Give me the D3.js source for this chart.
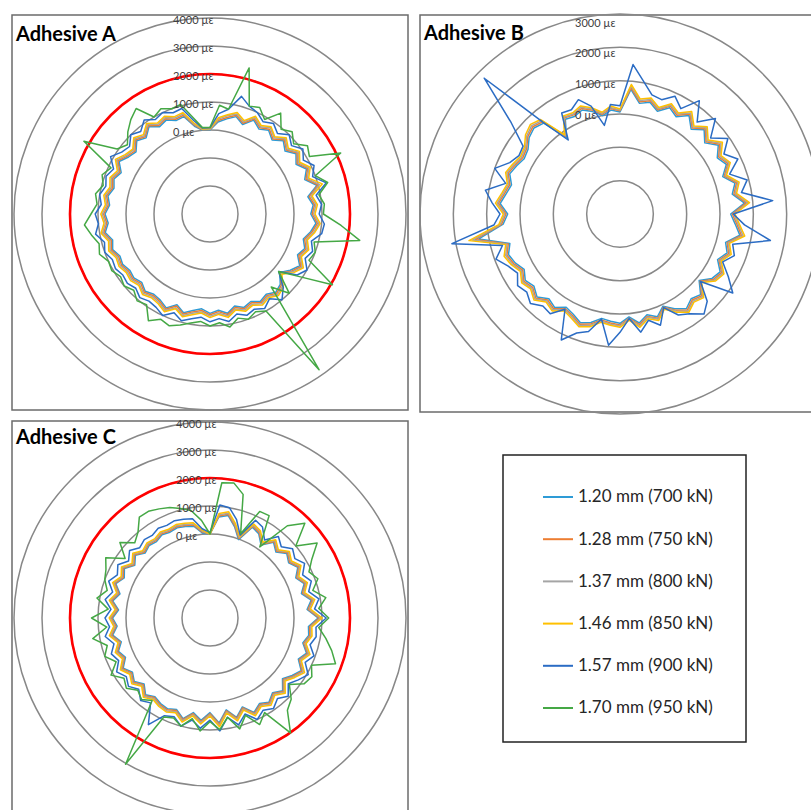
<!DOCTYPE html>
<html>
<head>
<meta charset="utf-8">
<script src="https://cdn.jsdelivr.net/npm/d3@7"></script>
<style>
  html, body { margin: 0; padding: 0; background: #fff; }
  svg { display: block; }
</style>
</head>
<body>
<svg id="chart" width="811" height="810"></svg>
<script>
// ---------- DATA (µε, 72 gauge positions every 5°, clockwise from top) ----------
const seriesNames = ["1.20 mm (700 kN)", "1.28 mm (750 kN)", "1.37 mm (800 kN)", "1.46 mm (850 kN)", "1.57 mm (900 kN)", "1.70 mm (950 kN)"];
const seriesColors = ["#2E9BD6", "#ED7D31", "#A5A5A5", "#FFC000", "#2B6CC4", "#45A845"];

const ringTicksA = [0, 1000, 2000, 3000, 4000];
const ringTicksB = [0, 1000, 2000, 3000];
const ringTicksC = [0, 1000, 2000, 3000, 4000];

// Adhesive A
const lightBlueA = [0,300,450,600,400,700,500,650,450,700,500,750,550,800,600,950,550,700,600,800,650,450,600,450,700,500,250,550,650,500,600,450,550,400,600,450,550,400,500,650,450,700,550,500,600,450,550,500,600,550,700,600,800,650,750,600,700,550,650,500,750,550,450,700,550,800,600,700,550,600,180,0];
const orangeA = [20,350,500,650,450,750,560,700,500,750,560,800,600,850,650,1000,600,750,650,850,700,500,650,500,750,560,280,600,700,550,650,500,600,460,650,500,600,460,550,700,500,750,600,550,650,500,600,550,650,600,750,650,850,700,800,650,750,600,700,550,800,600,500,750,600,850,650,750,600,650,220,20];
const grayA = [30,400,560,700,500,800,600,760,560,800,600,850,650,900,700,1050,660,800,700,900,760,560,700,560,800,600,320,660,750,600,700,560,650,510,700,560,650,510,600,750,560,800,650,600,700,560,650,600,700,650,800,700,900,750,850,700,800,650,750,600,850,650,560,800,650,900,700,800,650,700,260,30];
const yellowA = [50,450,600,750,550,850,650,800,600,850,650,900,700,950,750,1150,700,850,750,950,800,600,750,600,850,650,350,700,800,650,750,600,700,550,750,600,700,550,650,800,600,850,700,650,750,600,700,650,750,700,850,750,950,800,900,750,850,700,800,650,900,700,600,850,700,950,750,850,700,750,300,50];
const darkBlueA = [80,600,800,1350,1100,1000,800,950,750,1000,800,1050,850,1100,900,1300,850,1000,900,1100,1050,750,900,750,1000,800,200,700,1000,700,900,750,850,700,900,750,850,700,800,950,750,1000,850,800,900,750,850,800,900,850,1000,900,1150,1000,1100,900,1000,850,950,800,1100,850,750,1000,850,1100,900,1000,850,900,400,80];
const greenA = [100,900,800,2400,1100,1200,900,1400,950,1150,900,1250,1100,2150,1000,1350,950,1100,1050,1700,2430,850,1000,900,2050,900,200,1000,400,3790,1000,850,1000,850,1100,900,1000,850,950,1100,1250,1150,1400,950,1050,850,1000,900,1050,1000,1200,1100,1300,1500,1250,1050,1150,950,1100,900,2200,1050,850,1150,1400,1600,1000,1150,1000,1050,500,100];

// Adhesive B (no 1.70 mm series)
const lightBlueB = [60,750,370,470,280,520,370,610,320,570,320,600,370,520,280,570,420,750,320,470,650,280,420,230,470,370,100,420,320,470,280,50,280,130,320,100,280,230,180,370,470,320,230,420,320,520,370,470,320,470,560,420,1300,520,370,610,470,370,520,420,320,370,560,650,560,-200,280,230,320,180,0,130];
const orangeB = [100,800,420,520,330,570,420,660,370,620,370,650,420,570,330,620,470,800,370,520,700,330,470,280,520,420,140,470,370,520,330,90,330,180,370,140,330,280,230,420,520,370,280,470,370,570,420,520,370,520,610,470,1400,570,420,660,520,420,570,470,370,420,610,700,610,-160,330,280,370,230,40,180];
const grayB = [120,850,460,560,360,610,460,700,410,660,410,700,460,610,360,660,510,850,410,560,750,360,510,310,560,460,170,510,410,560,360,120,360,210,410,170,360,320,260,460,560,410,310,510,410,610,460,560,410,560,650,510,1500,610,460,700,560,460,610,510,410,460,650,750,650,-130,360,310,410,260,70,210];
const yellowB = [150,900,500,600,400,650,500,750,450,700,450,750,500,650,400,700,550,900,450,600,800,400,550,350,600,500,200,550,450,600,400,150,400,250,450,200,400,350,300,500,600,450,350,550,450,650,500,600,450,600,700,550,1600,650,500,750,600,500,650,550,450,500,700,800,700,-100,400,350,450,300,100,250];
const darkBlueB = [250,1500,1050,700,650,900,650,1150,600,1050,550,950,600,900,500,950,700,1600,400,750,1580,500,650,400,750,1130,150,700,920,650,500,100,550,300,600,150,550,950,200,650,800,1170,300,650,600,800,650,750,550,700,960,650,2120,800,600,850,1100,550,1000,650,500,550,1260,2760,600,-290,500,450,650,350,-300,300];

// Adhesive C
const lightBlueC = [0,620,720,380,-20,580,480,180,530,330,580,430,620,380,580,380,670,480,860,530,580,430,670,480,760,580,380,670,480,670,530,720,380,670,330,760,380,670,430,720,480,580,530,430,580,330,530,380,580,330,480,280,530,330,480,280,530,330,580,380,530,280,480,280,380,330,430,380,430,380,330,40];
const orangeC = [0,660,760,420,20,620,520,220,570,370,620,470,660,420,620,420,710,520,900,570,620,470,710,520,800,620,420,710,520,710,570,760,420,710,370,800,420,710,470,760,520,620,570,470,620,370,570,420,620,370,520,320,570,370,520,320,570,370,620,420,570,320,520,320,420,370,470,420,470,420,370,80];
const grayC = [0,700,800,460,60,660,560,260,610,410,660,510,700,460,660,460,750,560,950,610,660,510,750,560,850,660,460,750,560,750,610,800,460,750,410,850,460,750,510,800,560,660,610,510,660,410,610,460,660,410,560,360,610,410,560,360,610,410,660,460,610,360,560,360,460,410,510,460,510,460,410,110];
const yellowC = [0,750,850,500,100,700,600,300,650,450,700,550,750,500,700,500,800,600,1000,650,700,550,800,600,900,700,500,800,600,800,650,850,500,800,450,900,500,800,550,850,600,700,650,550,700,450,650,500,700,450,600,400,650,450,600,400,650,450,700,500,650,400,600,400,500,450,550,500,550,500,450,150];
const darkBlueC = [50,1050,1000,650,150,850,750,400,800,600,850,700,900,650,850,650,950,750,1150,800,850,700,950,750,1050,850,650,950,750,950,800,1000,650,950,600,1050,650,950,700,1000,750,850,1400,700,850,600,800,650,850,600,750,550,800,600,750,550,800,600,850,650,800,550,750,550,650,600,700,650,700,650,600,200];
const greenC = [0,1850,1900,1570,200,1200,1220,100,1300,1790,1000,1670,1200,900,1100,800,1200,900,1240,900,1200,1500,1770,1000,1200,1100,700,1100,1300,2010,900,1200,700,1100,600,1000,700,1050,650,1000,800,900,3030,600,800,650,900,750,1080,700,1000,800,1250,700,1230,650,1100,800,1000,1100,1300,700,1200,800,1000,1400,1400,1300,1200,1050,900,500];

// ---------- LAYOUT ----------
const panels = [
  { title: "Adhesive A", box: [12, 15, 396, 395], cx: 210, cy: 214, outer: 196, min: -3000, max: 4000,
    ticks: ringTicksA, red: 2000, labelX: 173, labelK: 1, labelDy: 3, titleX: 16, titleY: 41,
    series: [lightBlueA, orangeA, grayA, yellowA, darkBlueA, greenA] },
  { title: "Adhesive B", box: [420, 15, 400, 397], cx: 620, cy: 214, outer: 200, min: -3000, max: 3000,
    ticks: ringTicksB, red: null, labelX: 575, labelK: 0.92, labelDy: -6, titleX: 424, titleY: 40,
    series: [lightBlueB, orangeB, grayB, yellowB, darkBlueB, null] },
  { title: "Adhesive C", box: [12, 421, 396, 400], cx: 210, cy: 618, outer: 196, min: -3000, max: 4000,
    ticks: ringTicksC, red: 2000, labelX: 176, labelK: 1, labelDy: 3, titleX: 16, titleY: 444,
    series: [lightBlueC, orangeC, grayC, yellowC, darkBlueC, greenC] }
];

const svg = d3.select("#chart");

panels.forEach(p => {
  const g = svg.append("g");
  g.append("rect")
    .attr("x", p.box[0]).attr("y", p.box[1]).attr("width", p.box[2]).attr("height", p.box[3])
    .attr("fill", "#fff").attr("stroke", "#6b6b6b").attr("stroke-width", 1.5);

  const r = d3.scaleLinear().domain([p.min, p.max]).range([0, p.outer]);
  const n = p.series.find(s => s).length;
  const a = d3.scaleLinear().domain([0, n]).range([0, 2 * Math.PI]);

  const cg = g.append("g").attr("transform", `translate(${p.cx},${p.cy})`);
  const rings = d3.range(p.min + 1000, p.max + 1, 1000);
  cg.selectAll("circle.ring").data(rings).join("circle")
    .attr("class", "ring").attr("r", d => r(d))
    .attr("fill", "none").attr("stroke", "#888").attr("stroke-width", 1.5);

  if (p.red !== null) {
    cg.append("circle").attr("r", r(p.red))
      .attr("fill", "none").attr("stroke", "#FF0000").attr("stroke-width", 2.6);
  }

  const line = d3.lineRadial()
    .angle((d, i) => a(i))
    .radius(d => r(d))
    .curve(d3.curveLinearClosed);

  p.series.forEach((s, k) => {
    if (!s) return;
    cg.append("path").datum(s)
      .attr("d", line)
      .attr("fill", "none")
      .attr("stroke", seriesColors[k])
      .attr("stroke-width", 1.5)
      .attr("stroke-linejoin", "round");
  });

  g.selectAll("text.tick").data(p.ticks).join("text")
    .attr("class", "tick")
    .attr("x", p.labelX)
    .attr("y", d => p.cy - p.labelK * r(d) + p.labelDy)
    .attr("dominant-baseline", "middle")
    .attr("font-family", "Lato, 'Open Sans', sans-serif")
    .attr("font-size", 11)
    .attr("fill", "#404040")
    .text(d => d + " µε");

  g.append("text")
    .attr("x", p.titleX).attr("y", p.titleY)
    .attr("font-family", "Lato, 'Open Sans', sans-serif")
    .attr("font-weight", "bold")
    .attr("font-size", 20)
    .attr("fill", "#000")
    .text(p.title);
});

// ---------- LEGEND ----------
const lg = svg.append("g");
lg.append("rect").attr("x", 503).attr("y", 455).attr("width", 243).attr("height", 287)
  .attr("fill", "#fff").attr("stroke", "#222").attr("stroke-width", 1.5);
const rowY = d3.scalePoint().domain(seriesNames).range([497, 708]);
seriesNames.forEach((name, k) => {
  lg.append("line").attr("x1", 543).attr("x2", 573)
    .attr("y1", rowY(name)).attr("y2", rowY(name))
    .attr("stroke", seriesColors[k]).attr("stroke-width", 2);
  lg.append("text").attr("x", 578).attr("y", rowY(name) + 1)
    .attr("dominant-baseline", "middle")
    .attr("font-family", "Lato, 'Open Sans', sans-serif")
    .attr("font-size", 17).attr("fill", "#262626")
    .text(name);
});
</script>
</body>
</html>
